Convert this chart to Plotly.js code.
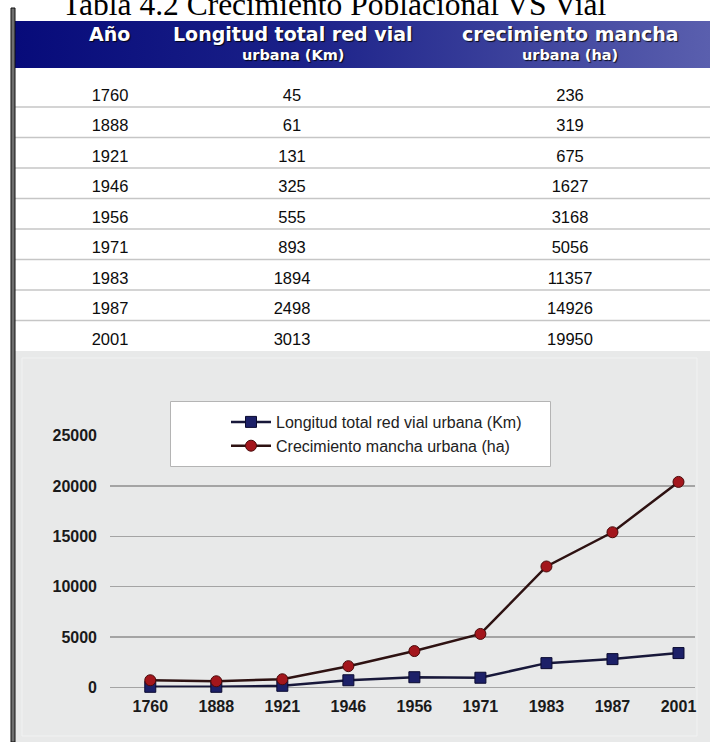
<!DOCTYPE html>
<html>
<head>
<meta charset="utf-8">
<script src="https://cdn.plot.ly/plotly-3.0.1.min.js"></script>
<style>html,body{margin:0;padding:0;background:#fff;}#chart{width:710px;height:742px;}</style>
</head>
<body>
<div id="chart"></div>
<script>
// ---- data ----
const years = ['1760', '1888', '1921', '1946', '1956', '1971', '1983', '1987', '2001'];
const roadKm = [45, 61, 131, 325, 555, 893, 1894, 2498, 3013];
const urbanHa = [236, 319, 675, 1627, 3168, 5056, 11357, 14926, 19950];
// values as plotted in the chart
const chartRoadKm = [50, 50, 150, 700, 1000, 950, 2400, 2800, 3400];
const chartUrbanHa = [700, 600, 800, 2100, 3600, 5300, 12000, 15400, 20400];
const headerMain = ['Año', 'Longitud total red vial', 'crecimiento mancha'];
const headerSub = ['', 'urbana (Km)', 'urbana (ha)'];
const legendNames = ['Longitud total red vial urbana (Km)', 'Crecimiento mancha urbana (ha)'];
const yTicks = [0, 5000, 10000, 15000, 20000, 25000];
const titleText = 'Tabla 4.2 Crecimiento Poblacional VS Vial';

// ---- layout helpers (pixels -> paper) ----
const W = 710, H = 742;
const fx = x => x / W;
const fy = y => 1 - y / H;

const headerTop = 21, headerBottom = 68, rowH = 30.5;
const firstRowTop = 76.5;          // white strip below the header
const textLift = 4;                 // table text sits a little above the row centre
const nRows = years.length;

const gradSvg = '<svg xmlns="http://www.w3.org/2000/svg" width="200" height="20" viewBox="0 0 200 20" preserveAspectRatio="none">' +
  '<defs><linearGradient id="g" x1="0" y1="0" x2="1" y2="0">' +
  '<stop offset="0" stop-color="#070b7a"/><stop offset="0.4" stop-color="#1a2088"/><stop offset="1" stop-color="#5a5fae"/>' +
  '</linearGradient></defs><rect width="200" height="20" fill="url(#g)"/></svg>';
const gradSrc = 'data:image/svg+xml;charset=utf-8,' + encodeURIComponent(gradSvg);

const sansFont = 'Liberation Sans, Arial, Helvetica, sans-serif';
const tableTop = firstRowTop - textLift - 8;

const tableTrace = {
  type: 'table',
  domain: {x: [fx(68), fx(708)], y: [fy(tableTop + 8 + rowH * nRows + 6), fy(tableTop)]},
  columnwidth: [84, 280, 276],
  header: {
    values: [],
    height: 8,
    fill: {color: 'rgba(0,0,0,0)'},
    line: {width: 0, color: 'rgba(0,0,0,0)'}
  },
  cells: {
    values: [years, roadKm, urbanHa],
    height: rowH,
    align: 'center',
    fill: {color: 'rgba(0,0,0,0)'},
    line: {width: 0, color: 'rgba(0,0,0,0)'},
    font: {family: sansFont, size: 16.5, color: '#0c0c0c'}
  },
  hoverinfo: 'skip'
};

const roadTrace = {
  type: 'scatter', mode: 'lines+markers',
  x: years, y: chartRoadKm, name: legendNames[0],
  line: {color: '#18183a', width: 2.5},
  marker: {symbol: 'square', size: 11, color: '#1c2068', line: {color: '#0a0a30', width: 1}},
  cliponaxis: false
};
const urbanTrace = {
  type: 'scatter', mode: 'lines+markers',
  x: years, y: chartUrbanHa, name: legendNames[1],
  line: {color: '#2e1212', width: 2.5},
  marker: {symbol: 'circle', size: 11, color: '#a3161c', line: {color: '#4a0a0a', width: 1}},
  cliponaxis: false
};

const shapes = [];
// grey chart panel
shapes.push({type: 'rect', xref: 'paper', yref: 'paper', x0: fx(15), x1: fx(710), y0: fy(742), y1: fy(351),
  fillcolor: '#e8e9e9', line: {width: 0}, layer: 'below'});
shapes.push({type: 'rect', xref: 'paper', yref: 'paper', x0: fx(22), x1: fx(697), y0: fy(736), y1: fy(358),
  fillcolor: 'rgba(0,0,0,0)', line: {width: 1, color: '#f1f2f2'}, layer: 'below'});
// row separators of the table
for (let k = 1; k < nRows; k++) {
  const y = firstRowTop + k * rowH;
  shapes.push({type: 'line', xref: 'paper', yref: 'paper', x0: fx(15), x1: fx(710), y0: fy(y), y1: fy(y),
    line: {color: '#c6c6c6', width: 1.5}, layer: 'below'});
}
// legend frame
shapes.push({type: 'rect', xref: 'paper', yref: 'paper', x0: fx(170.5), x1: fx(550.5), y0: fy(466.5), y1: fy(401.5),
  fillcolor: '#ffffff', line: {color: '#b4b4b4', width: 1}, layer: 'above'});
// left frame bar
shapes.push({type: 'rect', xref: 'paper', yref: 'paper', x0: fx(11), x1: fx(15), y0: fy(742), y1: fy(8),
  fillcolor: '#6e6e6e', line: {color: '#111111', width: 1}, layer: 'above'});

const headerX = [110, 293, 570];
const annotations = [];
annotations.push({
  text: titleText, xref: 'paper', yref: 'paper', x: fx(60), y: fy(24), xanchor: 'left', yanchor: 'bottom',
  showarrow: false, font: {family: 'Liberation Serif, Times New Roman, serif', size: 31.5, color: '#000'}
});
headerMain.forEach((t, i) => {
  annotations.push({
    text: t, xref: 'paper', yref: 'paper', x: fx(headerX[i]), y: fy(34), xanchor: 'center', yanchor: 'middle',
    showarrow: false,
    font: {family: 'DejaVu Sans, Verdana, sans-serif', size: 19, color: '#ffffff', weight: 'bold', shadow: '1px 1px 1px rgba(0,0,0,0.85)'}
  });
  if (headerSub[i]) {
    annotations.push({
      text: headerSub[i], xref: 'paper', yref: 'paper', x: fx(headerX[i]), y: fy(55), xanchor: 'center', yanchor: 'middle',
      showarrow: false,
      font: {family: 'DejaVu Sans, Verdana, sans-serif', size: 14.5, color: '#ffffff', weight: 'bold', shadow: '1px 1px 1px rgba(0,0,0,0.85)'}
    });
  }
});

const tickFont = {family: sansFont, size: 16, color: '#1a1a1a', weight: 'bold'};

const layout = {
  width: W, height: H,
  margin: {l: 0, r: 0, t: 0, b: 0, pad: 0},
  paper_bgcolor: '#ffffff',
  plot_bgcolor: 'rgba(0,0,0,0)',
  showlegend: true,
  legend: {
    x: fx(226), y: fy(405), xanchor: 'left', yanchor: 'top',
    bgcolor: 'rgba(0,0,0,0)', borderwidth: 0, itemwidth: 40,
    font: {family: sansFont, size: 16, color: '#222'},
    traceorder: 'normal'
  },
  xaxis: {
    type: 'category', domain: [fx(110), fx(695)], range: [-0.61, 8.25],
    showgrid: false, zeroline: false, showline: false, ticks: '',
    tickfont: tickFont, ticklabelstandoff: 8, fixedrange: true
  },
  yaxis: {
    domain: [fy(687.3), fy(435.6)], range: [0, 25000],
    tickvals: yTicks, ticktext: yTicks.map(String),
    showgrid: true, gridcolor: '#a4a4a4', gridwidth: 1.5,
    zeroline: true, zerolinecolor: '#a4a4a4', zerolinewidth: 1.5,
    showline: false, ticks: '', tickfont: tickFont, ticklabelstandoff: 12, fixedrange: true
  },
  images: [{
    source: gradSrc, xref: 'paper', yref: 'paper', x: fx(15), y: fy(headerTop),
    sizex: fx(710) - fx(15), sizey: (headerBottom - headerTop) / H,
    sizing: 'stretch', xanchor: 'left', yanchor: 'top', layer: 'below'
  }],
  shapes: shapes,
  annotations: annotations
};

Plotly.newPlot('chart', [tableTrace, roadTrace, urbanTrace], layout, {displayModeBar: false, staticPlot: true});
</script>
</body>
</html>
